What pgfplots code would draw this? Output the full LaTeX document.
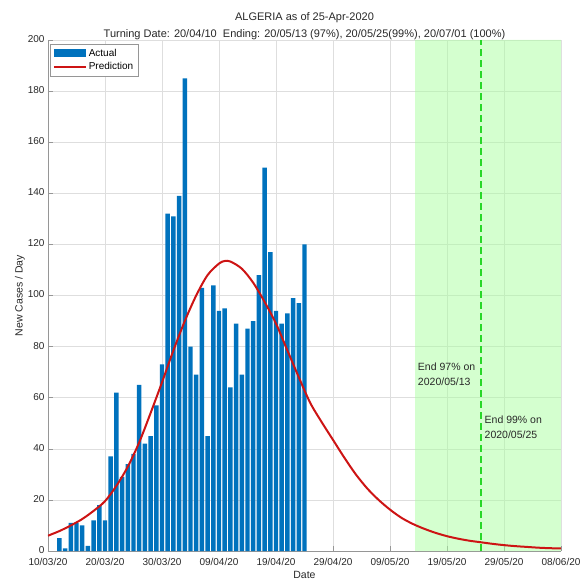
\documentclass[border=0pt]{standalone}
\usepackage{fontspec}
\setmainfont{Liberation Sans}
\usepackage{pgfplots}
\pgfplotsset{compat=1.18}

\definecolor{barblue}{RGB}{0,114,189}
\definecolor{predred}{RGB}{205,20,20}
\definecolor{zonegreen}{RGB}{170,255,160}
\definecolor{endgreen}{RGB}{40,215,40}
\definecolor{gridgray}{RGB}{222,222,222}
\definecolor{axgray}{RGB}{150,150,150}
\definecolor{txt}{RGB}{40,40,40}

\begin{document}
\begin{tikzpicture}
\begin{axis}[
  scale only axis,
  width=513pt, height=511pt,
  xmin=0, xmax=90, ymin=0, ymax=200,
  axis x line*=bottom, axis y line*=left,
  axis line style={axgray, line width=0.8pt},
  xtick={0,10,...,90},
  xticklabels={10/03/20,20/03/20,30/03/20,09/04/20,19/04/20,29/04/20,09/05/20,19/05/20,29/05/20,08/06/20},
  ytick={0,20,...,200},
  tick align=inside, major tick length=5pt,
  tick style={axgray, line width=0.6pt},
  grid=major,
  major grid style={gridgray, line width=0.6pt},
  tick label style={font=\fontsize{10}{12}\selectfont, text=txt},
  xticklabel style={yshift=-4pt},
  yticklabel style={yshift=1pt},
  /pgf/number format/assume math mode=true,
  xlabel={Date}, ylabel={New Cases / Day},
  label style={font=\fontsize{10.5}{12}\selectfont, text=txt},
  xlabel style={yshift=1pt},
  ylabel style={yshift=-4pt},
  title={ALGERIA as of 25-Apr-2020\\Turning Date: 20/04/10\ \ Ending: 20/05/13 (97\%), 20/05/25(99\%), 20/07/01 (100\%)},
  title style={font=\fontsize{11}{17.5}\selectfont, align=center, text=txt, yshift=-9.5pt},
  legend cell align=left,
  legend style={font=\fontsize{10}{12}\selectfont, draw=axgray, at={(0.004,0.992)}, anchor=north west,
    inner xsep=3pt, inner ysep=2.5pt, row sep=1pt},
]
% prediction zone and end line
\addplot[fill=zonegreen, fill opacity=0.5, draw=none, forget plot]
  coordinates {(64.4,0) (90,0) (90,200) (64.4,200) (64.4,0)} \closedcycle;
\addplot[endgreen, line width=2pt, dash pattern=on 7pt off 4pt, forget plot]
  coordinates {(76,0) (76,200)};

\addplot[ybar, bar width=0.78, fill=barblue, draw=none,
  area legend,
  legend image code/.code={\fill[barblue] (0pt,-4pt) rectangle (32pt,4pt);}]
coordinates {
  (2,5) (3,1) (4,11) (5,11) (6,10) (7,2) (8,12) (9,18) (10,12) (11,37)
  (12,62) (13,29) (14,34) (15,38) (16,65) (17,42) (18,45) (19,57) (20,73)
  (21,132) (22,131) (23,139) (24,185) (25,80) (26,69) (27,103) (28,45)
  (29,104) (30,94) (31,95) (32,64) (33,89) (34,69) (35,87) (36,90)
  (37,108) (38,150) (39,117) (40,94) (41,89) (42,93) (43,99) (44,97) (45,120)
};
\addlegendentry{Actual}

\addplot[predred, line width=2pt, smooth,
  legend image code/.code={\draw[predred, line width=1.5pt] (0pt,0pt) -- (32pt,0pt);}]
coordinates {
  (0,6) (2,7.8) (4,10) (6,12.5) (8,15.7) (10,19.5) (12,25.5) (14,33)
  (16,42.5) (18,54) (20,66) (22,78.5) (24,90) (26,100) (28,108) (30,112.5)
  (31,113.5) (32,113.3) (34,110.5) (36,105) (38,97.5) (40,89) (42,78.5)
  (44,68) (46,58) (48,50.5) (50,43.5) (52,36.5) (54,30) (56,24.5) (58,20)
  (60,16.2) (62,13) (64,10.6) (66,8.7) (68,7.1) (70,5.8) (72,4.8) (74,4)
  (76,3.4) (78,2.8) (80,2.3) (82,1.9) (84,1.6) (86,1.3) (88,1.1) (90,1.0)
};
\addlegendentry{Prediction}

\node[anchor=north west, align=left, font=\fontsize{10.5}{15}\selectfont, text=txt, inner sep=1pt]
  at (axis cs:64.7,74) {End 97\% on\\2020/05/13};
\node[anchor=north west, align=left, font=\fontsize{10.5}{15}\selectfont, text=txt, inner sep=1pt]
  at (axis cs:76.4,53.5) {End 99\% on\\2020/05/25};
\end{axis}
\pgfresetboundingbox
\path[use as bounding box] ([shift={(-48pt,-30pt)}]current axis.south west)
  rectangle ([shift={(532pt,551pt)}]current axis.south west);
\end{tikzpicture}
\end{document}
